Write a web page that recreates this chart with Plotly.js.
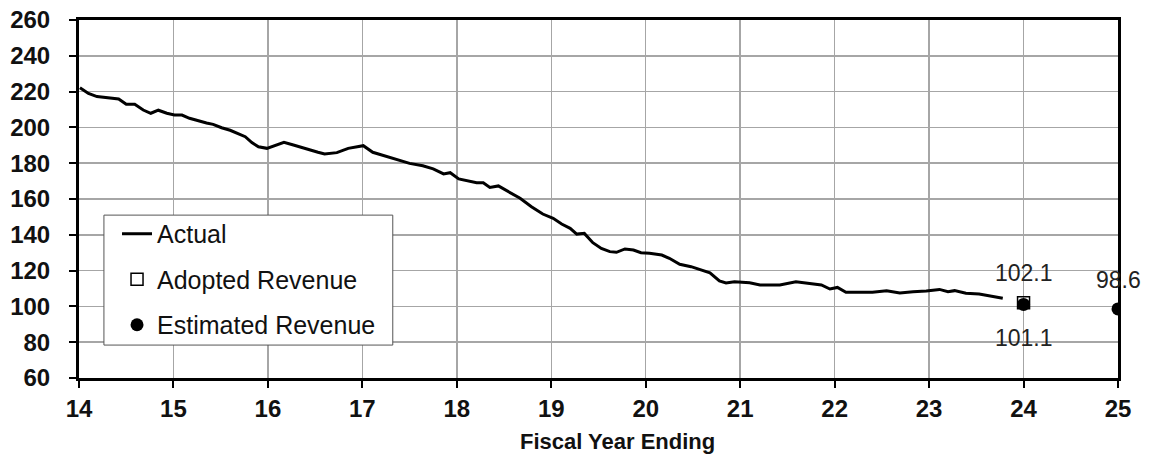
<!DOCTYPE html>
<html>
<head>
<meta charset="utf-8">
<script src="https://cdn.plot.ly/plotly-3.0.1.min.js"></script>
<style>html,body{margin:0;padding:0;background:#fff;}#chart{width:1151px;height:457px;}</style>
</head>
<body>
<div id="chart"></div>
<script>
// Actual revenue, x = fiscal year ending
const actualX = [14.01,14.10,14.19,14.29,14.42,14.50,14.59,14.68,14.76,14.84,14.93,15.01,15.09,15.17,15.26,15.35,15.42,15.51,15.60,15.69,15.76,15.83,15.90,15.99,16.07,16.17,16.27,16.36,16.44,16.53,16.60,16.73,16.85,17.01,17.11,17.26,17.36,17.50,17.64,17.75,17.86,17.93,18.02,18.12,18.21,18.28,18.35,18.44,18.54,18.67,18.79,18.91,19.02,19.11,19.20,19.27,19.35,19.44,19.53,19.62,19.69,19.78,19.87,19.95,20.04,20.17,20.25,20.36,20.48,20.59,20.68,20.78,20.85,20.94,21.10,21.21,21.42,21.59,21.74,21.86,21.95,22.03,22.12,22.26,22.40,22.55,22.69,22.83,22.97,23.11,23.20,23.27,23.39,23.53,23.64,23.78];
const actualY = [222.2,219.0,217.2,216.6,215.9,212.9,212.9,209.7,207.9,209.6,207.9,206.9,206.9,205.1,203.6,202.5,201.7,199.8,198.4,196.5,194.8,191.5,189.2,188.3,189.8,191.7,190.2,188.7,187.2,186.1,185.1,185.9,188.3,189.8,186.1,183.6,181.8,179.9,178.6,176.8,174.0,174.7,171.2,170.2,169.1,169.1,166.5,167.3,164.5,160.4,155.7,151.6,149.2,146.0,143.6,140.4,140.8,135.6,132.4,130.6,130.2,132.1,131.5,130.0,129.7,128.7,126.9,123.5,122.2,120.3,118.8,114.2,113.1,113.8,113.2,112.0,112.0,113.8,113.0,112.0,109.7,110.6,107.9,107.9,107.9,108.8,107.5,108.2,108.6,109.5,108.2,108.8,107.3,106.9,106.0,104.5];
const adoptedX = [24];
const adoptedY = [102.1];
const estimatedX = [24, 25];
const estimatedY = [101.1, 98.6];
const xTicks = [14,15,16,17,18,19,20,21,22,23,24,25];
const yTicks = [60,80,100,120,140,160,180,200,220,240,260];
const xTitle = 'Fiscal Year Ending';

const FAM = 'Arial, "Liberation Sans", sans-serif';
const lblFont = {family: FAM, size: 23, color: '#222'};
const annotations = [
  {x: adoptedX[0], y: adoptedY[0], text: adoptedY[0].toFixed(1), yshift: 30},
  {x: estimatedX[0], y: estimatedY[0], text: estimatedY[0].toFixed(1), yshift: -34},
  {x: estimatedX[1], y: estimatedY[1], text: estimatedY[1].toFixed(1), yshift: 29}
].map(a => Object.assign({xref: 'x', yref: 'y', showarrow: false, font: lblFont, xanchor: 'center', yanchor: 'middle'}, a));
annotations.push({xref: 'paper', yref: 'paper', x: 0.518, y: -0.177, yanchor: 'middle', xanchor: 'center',
  showarrow: false, text: '<b>' + xTitle + '</b>', font: {family: FAM, size: 22, color: '#111'}});

const traces = [
  {x: actualX, y: actualY, type: 'scatter', mode: 'lines', name: 'Actual', legendgroup: 'a',
   line: {color: '#000', width: 3}},
  {x: adoptedX, y: adoptedY, type: 'scatter', mode: 'markers', name: 'Adopted Revenue', legendgroup: 'b',
   marker: {symbol: 'square-open', size: 12, color: '#000', line: {width: 1.5, color: '#000'}}},
  {x: estimatedX, y: estimatedY, type: 'scatter', mode: 'markers', name: 'Estimated Revenue', legendgroup: 'c',
   marker: {symbol: 'circle', size: 13, color: '#000'}}
];

const axFont = {family: FAM, size: 24, color: '#111', weight: 'bold'};
const layout = {
  width: 1151, height: 457,
  margin: {l: 79, r: 33, t: 20, b: 79},
  paper_bgcolor: '#fff', plot_bgcolor: '#fff',
  font: {family: FAM},
  showlegend: true,
  legend: {
    x: 0.0366, y: 0.4665, xanchor: 'left', yanchor: 'top',
    bgcolor: 'rgba(0,0,0,0)', borderwidth: 0,
    font: {family: FAM, size: 25, color: '#111'},
    tracegroupgap: 10, traceorder: 'grouped'
  },
  shapes: [
    {type: 'rect', xref: 'paper', yref: 'paper', x0: 0.024, x1: 0.302, y0: 0.092, y1: 0.455,
     fillcolor: '#fff', line: {color: '#555', width: 1}, layer: 'above'}
  ],
  xaxis: {
    range: [14, 25], tickvals: xTicks, ticktext: xTicks.map(String),
    showgrid: true, gridcolor: '#a6a6a6', gridwidth: 1.5,
    showline: true, linecolor: '#000', linewidth: 3, mirror: true,
    ticks: 'outside', ticklen: 7, tickwidth: 2, tickcolor: '#000',
    tickfont: axFont, zeroline: false
  },
  yaxis: {
    range: [60, 260], tickvals: yTicks, ticktext: yTicks.map(String),
    showgrid: true, gridcolor: '#a6a6a6', gridwidth: 1.5,
    showline: true, linecolor: '#000', linewidth: 3, mirror: true,
    ticks: 'outside', ticklen: 7, tickwidth: 2, tickcolor: '#000',
    tickfont: axFont, zeroline: false, ticklabelstandoff: 14
  },
  annotations: annotations
};

Plotly.newPlot('chart', traces, layout, {displayModeBar: false, staticPlot: true});
</script>
</body>
</html>
